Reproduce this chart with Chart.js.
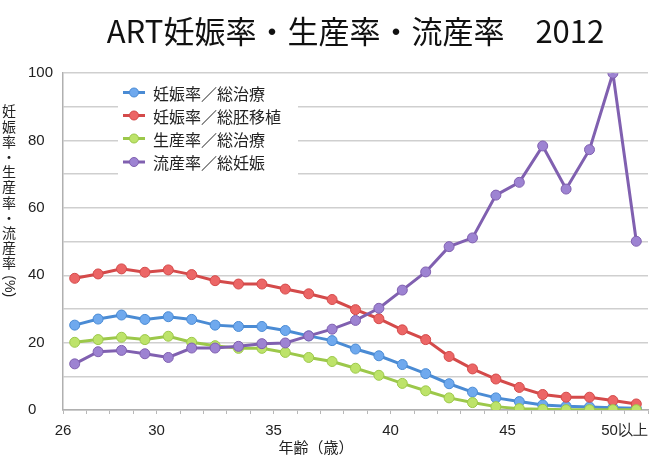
<!DOCTYPE html>
<html><head><meta charset="utf-8">
<script src="https://cdn.jsdelivr.net/npm/chart.js@4.4.1/dist/chart.umd.min.js"></script>
<style>html,body{margin:0;padding:0;background:#fff;}</style>
</head><body>
<canvas id="c" width="656" height="457" style="display:block;width:656px;height:457px"></canvas>
<script>
// ---- data ----
const chartTitle = 'ART妊娠率・生産率・流産率　2012';
const yAxisTitle = '妊娠率・生産率・流産率';
const yAxisUnit = '(%)';
const xAxisTitle = '年齢（歳）';
const ages = ['26','27','28','29','30','31','32','33','34','35','36','37','38','39','40','41','42','43','44','45','46','47','48','49','50以上'];
const shownAgeLabels = ['26','30','35','40','45','50以上'];
const yTickLabels = [0, 20, 40, 60, 80, 100];
const seriesNames = ['妊娠率／総治療', '妊娠率／総胚移植', '生産率／総治療', '流産率／総妊娠'];
const pregPerTreatment = [25.2,27.0,28.2,26.9,27.7,26.9,25.2,24.8,24.8,23.6,22.0,20.6,18.1,16.1,13.5,10.8,7.8,5.3,3.6,2.5,1.5,1.1,0.9,0.7,0.5];
const pregPerTransfer = [39.1,40.4,41.9,40.9,41.6,40.2,38.4,37.4,37.4,35.9,34.5,32.8,29.8,27.1,23.8,20.9,15.9,12.2,9.2,6.7,4.6,3.8,3.8,2.8,1.8];
const livePerTreatment = [20.1,20.9,21.6,20.9,21.9,20.1,19.1,18.3,18.3,17.1,15.6,14.4,12.4,10.3,7.9,5.7,3.6,2.2,1.0,0.4,0.2,0.1,0.1,0.1,0.1];
const miscarriagePerPreg = [13.7,17.3,17.7,16.7,15.6,18.4,18.4,18.9,19.7,19.9,22.0,24.0,26.6,30.2,35.6,41.0,48.5,51.1,63.8,67.6,78.4,65.6,77.3,100,50.1];

// ---- styles ----
const lineColors = ['#4a8bd4', '#d44a4a', '#9cc84a', '#8060b0'];
const markerColors = ['#6fa9ee', '#ec6666', '#bde36a', '#9d83d2'];
const CJK = '"Noto Sans CJK JP", "Noto Sans", sans-serif';
const LAT = '"Liberation Sans", Arial, sans-serif';

function mkDataset(i, data, order) {
  return {
    label: seriesNames[i], data: data, order: order,
    borderColor: lineColors[i], backgroundColor: markerColors[i],
    borderWidth: 3, pointRadius: 5, pointHoverRadius: 5,
    pointBackgroundColor: markerColors[i], pointBorderColor: lineColors[i], pointBorderWidth: 1,
    tension: 0, fill: false
  };
}

const extrasPlugin = {
  id: 'extras',
  beforeDatasetsDraw(chart) {
    const ctx = chart.ctx;
    ctx.save();
    // legend box
    ctx.fillStyle = '#ffffff';
    ctx.fillRect(118, 80, 180, 97);
    const rows = [92.5, 115.5, 138.5, 162];
    chart.data.datasets.forEach((ds, i) => {
      const y = rows[i];
      ctx.strokeStyle = ds.borderColor; ctx.lineWidth = 3;
      ctx.beginPath(); ctx.moveTo(123, y); ctx.lineTo(145, y); ctx.stroke();
      ctx.fillStyle = ds.pointBackgroundColor; ctx.lineWidth = 1;
      ctx.beginPath(); ctx.arc(134, y, 4.5, 0, Math.PI * 2); ctx.fill(); ctx.stroke();
      ctx.fillStyle = '#222'; ctx.font = '16px ' + CJK;
      ctx.textAlign = 'left'; ctx.textBaseline = 'middle';
      ctx.fillText(ds.label, 153, y + 1);
    });
    ctx.restore();
  },
  afterDraw(chart) {
    const ctx = chart.ctx;
    ctx.save();
    ctx.fillStyle = '#222';
    ctx.font = '14px ' + CJK;
    ctx.textAlign = 'center'; ctx.textBaseline = 'middle';
    const chars = Array.from(yAxisTitle);
    chars.forEach((ch, k) => ctx.fillText(ch, 9, 111 + k * 15.2));
    ctx.translate(9, 111 + chars.length * 15.2 + 8);
    ctx.rotate(Math.PI / 2);
    ctx.font = '14px ' + LAT;
    ctx.fillText(yAxisUnit, 0, 0);
    ctx.restore();
    ctx.save();
    ctx.fillStyle = '#222';
    ctx.font = '15px ' + CJK;
    ctx.textAlign = 'center'; ctx.textBaseline = 'middle';
    ctx.fillText(xAxisTitle, 316, 447);
    ctx.restore();
  }
};

new Chart(document.getElementById('c'), {
  type: 'line',
  data: {
    labels: ages,
    datasets: [
      mkDataset(0, pregPerTreatment, 4),
      mkDataset(1, pregPerTransfer, 3),
      mkDataset(2, livePerTreatment, 2),
      mkDataset(3, miscarriagePerPreg, 1)
    ]
  },
  options: {
    responsive: false, animation: false, devicePixelRatio: 1,
    layout: { padding: { left: 28, right: 8, top: 0, bottom: 17 } },
    plugins: {
      legend: { display: false }, tooltip: { enabled: false },
      title: {
        display: true, text: chartTitle, fullSize: false, color: '#111',
        font: { family: CJK, size: 31, weight: 'normal' },
        padding: { top: 13, bottom: 23 }
      }
    },
    scales: {
      x: {
        offset: true,
        grid: { display: true, drawOnChartArea: false, drawTicks: true, tickLength: 4, color: '#b8b8b8', offset: true },
        border: { color: '#b0b0b0', width: 1.5 },
        ticks: {
          autoSkip: false, maxRotation: 0, minRotation: 0, padding: 8,
          labelOffset: -11.7, color: '#222', font: { family: LAT, size: 15 },
          callback: (v, i) => shownAgeLabels.includes(ages[i]) ? ages[i] : ''
        },
        afterFit: (s) => { s.height = 30; s.paddingLeft = 0; s.paddingRight = 0; }
      },
      y: {
        min: 0, max: 100,
        grid: { color: '#cfcfcf', lineWidth: 1.5, drawTicks: false },
        border: { color: '#b0b0b0', width: 1.5 },
        ticks: {
          stepSize: 10, padding: 12, crossAlign: 'far', color: '#222',
          font: { family: LAT, size: 15 },
          callback: (v) => yTickLabels.includes(v) ? String(v) : ''
        },
        afterFit: (s) => { s.width = 35; s.paddingTop = 0; s.paddingBottom = 0; }
      }
    }
  },
  plugins: [extrasPlugin]
});
</script>
</body></html>
